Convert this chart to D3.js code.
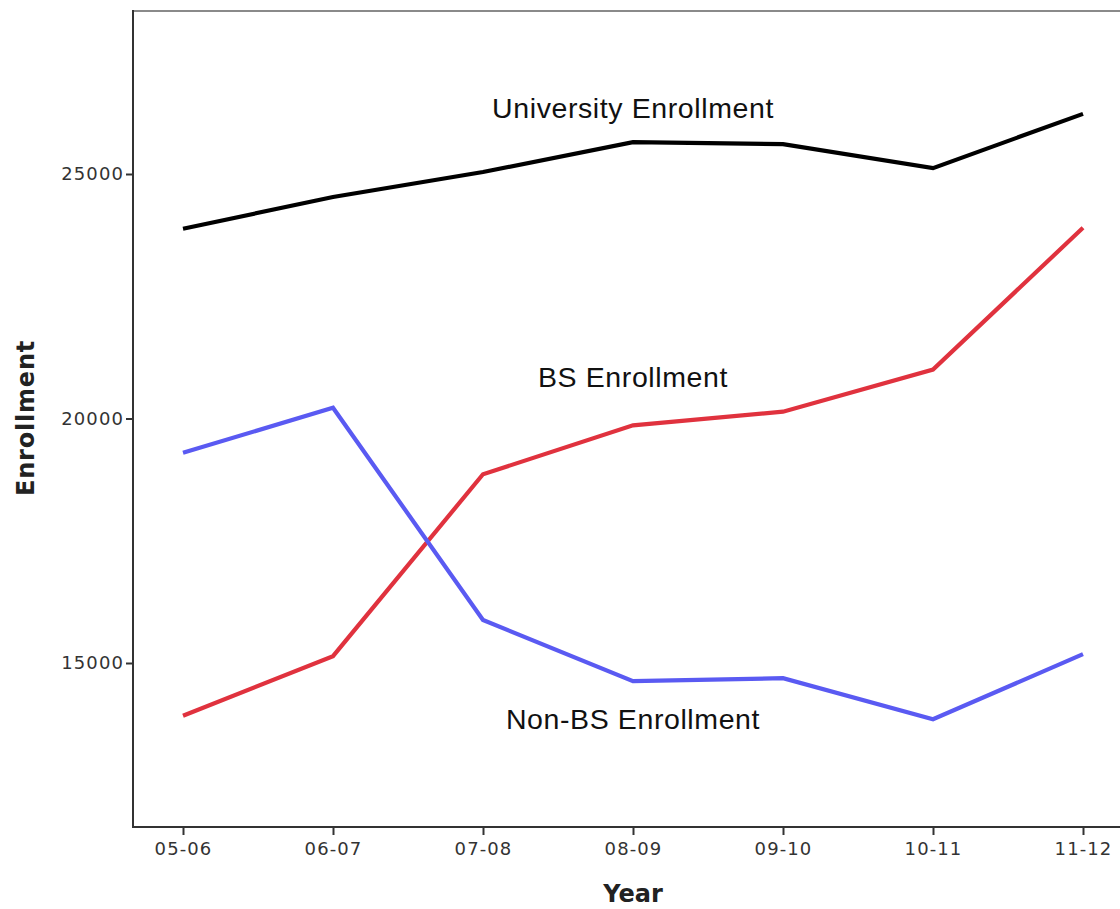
<!DOCTYPE html>
<html><head><meta charset="utf-8">
<script src="https://cdn.jsdelivr.net/npm/d3@7"></script>
<style>html,body{margin:0;padding:0;background:#fff;}svg{display:block;}</style>
</head><body>
<script>
const years = ["05-06","06-07","07-08","08-09","09-10","10-11","11-12"];
const university = [23880, 24530, 25040, 25650, 25610, 25120, 26230];
const bsEnroll = [13920, 15140, 18860, 19860, 20140, 21000, 23900];
const nonBsEnroll = [19300, 20220, 15880, 14630, 14690, 13850, 15180];
const yTicks = [15000, 20000, 25000];

const W = 1120, H = 909;
const svg = d3.select("body").append("svg").attr("width", W).attr("height", H);

const plotLeft = 133, plotTop = 11, plotBottom = 827, plotRight = 1133;
const x = d3.scalePoint().domain(years).range([183, 1083]);
const y = d3.scaleLinear().domain([15000, 25000]).range([663, 174]);

// frame
svg.append("line").attr("x1", plotLeft).attr("x2", plotRight).attr("y1", plotTop).attr("y2", plotTop)
  .attr("stroke", "#8a8a8a").attr("stroke-width", 2);

const series = [
  {vals: university, color: "#000000"},
  {vals: bsEnroll, color: "#e0323e"},
  {vals: nonBsEnroll, color: "#5a5af2"}
];
const line = d3.line().x((d, i) => x(years[i])).y(d => y(d));
series.forEach(s => {
  svg.append("path").datum(s.vals).attr("d", line).attr("fill", "none")
    .attr("stroke", s.color).attr("stroke-width", 4.2).attr("stroke-linejoin", "miter");
});

// axes
const yAxis = svg.append("g").attr("transform", `translate(${plotLeft},0)`)
  .call(d3.axisLeft(y).tickValues(yTicks).tickSize(7).tickPadding(2).tickFormat(d3.format("d")));
yAxis.select(".domain").remove();
yAxis.append("line").attr("x1", 0).attr("x2", 0).attr("y1", plotTop - 1).attr("y2", plotBottom + 1)
  .attr("stroke", "#333").attr("stroke-width", 2);

const xAxis = svg.append("g").attr("transform", `translate(0,${plotBottom})`)
  .call(d3.axisBottom(x).tickSize(8).tickPadding(7));
xAxis.select(".domain").remove();
xAxis.append("line").attr("x1", plotLeft - 1).attr("x2", plotRight).attr("y1", 0).attr("y2", 0)
  .attr("stroke", "#333").attr("stroke-width", 2);

[yAxis, xAxis].forEach(g => {
  g.selectAll(".tick line").attr("stroke", "#333").attr("stroke-width", 2);
  g.selectAll(".tick text").attr("fill", "#333")
    .style("font-family", "DejaVu Sans, sans-serif").style("font-size", "18px")
    .style("letter-spacing", "1.1px");
});

// series labels
const labels = [
  {text: "University Enrollment", y: 118},
  {text: "BS Enrollment", y: 387},
  {text: "Non-BS Enrollment", y: 729}
];
svg.selectAll("text.lab").data(labels).enter().append("text").attr("class", "lab")
  .attr("x", 633).attr("y", d => d.y).attr("text-anchor", "middle")
  .style("font-family", "Liberation Sans, Arial, sans-serif").style("font-size", "28.5px")
  .style("letter-spacing", "0.6px")
  .attr("fill", "#111").text(d => d.text);

// axis titles
svg.append("text").attr("x", 633).attr("y", 902).attr("text-anchor", "middle")
  .style("font-family", "DejaVu Sans, sans-serif").style("font-weight", "bold").style("font-size", "24px")
  .attr("fill", "#222").text("Year");
svg.append("text").attr("transform", "translate(34,418) rotate(-90)").attr("text-anchor", "middle")
  .style("font-family", "DejaVu Sans, sans-serif").style("font-weight", "bold").style("font-size", "24px")
  .style("letter-spacing", "0.8px")
  .attr("fill", "#222").text("Enrollment");
</script>
</body></html>
